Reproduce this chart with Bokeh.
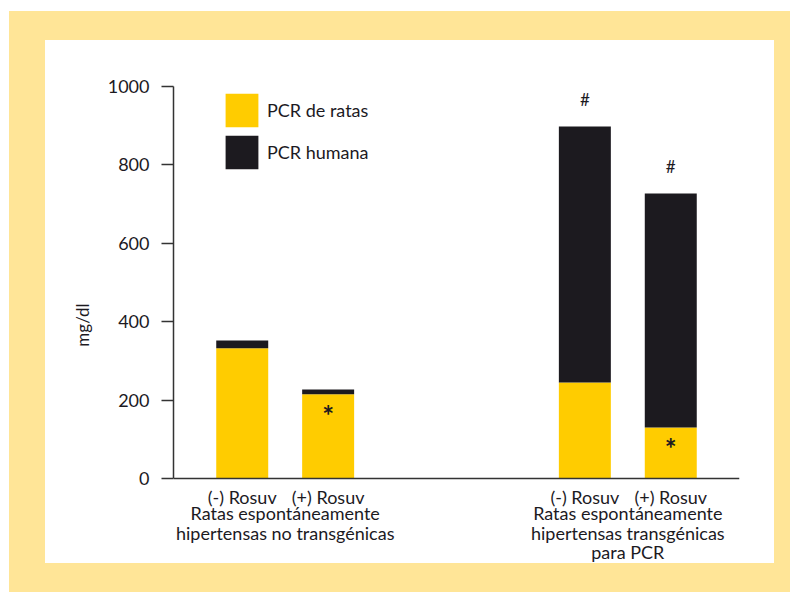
from bokeh.plotting import figure
from bokeh.models import FactorRange, ColumnDataSource, Spacer, Column, Row, Legend, LegendItem
from bokeh.core.properties import value
from bokeh.embed import file_html
from bokeh.resources import INLINE

# ---- data ----
groups = ["Ratas espontáneamente\nhipertensas no transgénicas",
          "Ratas espontáneamente\nhipertensas transgénicas\npara PCR"]
treatments = ["(-) Rosuv", "(+) Rosuv"]
pcr_ratas = [332, 215, 245, 130]
pcr_humana = [20, 12, 653, 597]
hash_marks = ["", "", "#", "#"]
star_marks = ["", "*", "", "*"]
series_names = ["PCR de ratas", "PCR humana"]
y_ticks = [0, 200, 400, 600, 800, 1000]
y_label = "mg/dl"

YELLOW = "#FFCC00"
BLACK = "#1C1A1F"
FRAME_BG = "#FFE597"
FONT = "Lato"

factors = [(g, t) for g in groups for t in treatments]
totals = [a + b for a, b in zip(pcr_ratas, pcr_humana)]
src = ColumnDataSource(dict(x=factors, ratas=pcr_ratas, humana=pcr_humana,
                            total=totals, hashm=hash_marks, starm=star_marks,
                            tlabel=[t for g in groups for t in treatments],
                            zero=[0] * len(factors)))
gsrc = ColumnDataSource(dict(x=groups, label=groups, zero=[0] * len(groups)))

xr = FactorRange(*factors, factor_padding=0.0, group_padding=1.988,
                 range_padding=0.3, range_padding_units="absolute")

p = figure(x_range=xr, y_range=(-217, 1000), width=729, height=523,
           output_backend="svg", toolbar_location=None,
           min_border_left=128, min_border_right=35, min_border_top=46, min_border_bottom=0)
p.background_fill_color = None
p.border_fill_color = "white"
p.outline_line_color = None
p.grid.visible = False
p.styles = {"background-color": "white"}

r = p.vbar_stack(["ratas", "humana"], x="x", width=0.605, source=src,
                 color=[YELLOW, BLACK], line_color=None)

p.text(x="x", y="total", text="hashm", source=src, text_align="center",
       text_baseline="middle", y_offset=-27, text_font=value(FONT),
       text_font_size="17px", text_color=BLACK)
p.text(x="x", y="ratas", text="starm", source=src, text_align="center",
       text_baseline="middle", y_offset=21, text_font=value(FONT),
       text_font_size="28px", text_font_style="bold", text_color=BLACK)

# category labels under the axis
p.text(x="x", y="zero", text="tlabel", source=src, text_align="center",
       text_baseline="top", y_offset=8, text_font=value(FONT),
       text_font_size="18px", text_color=BLACK)
p.text(x="x", y="zero", text="label", source=gsrc, text_align="center",
       text_baseline="top", y_offset=24, text_font=value(FONT),
       text_font_size="18px", text_color=BLACK, text_line_height=0.88)

legend = Legend(items=[LegendItem(label=series_names[0], renderers=[r[0]]),
                       LegendItem(label=series_names[1], renderers=[r[1]])],
                location=(48, 390), padding=0, margin=0, spacing=-3,
                glyph_width=41, glyph_height=42, label_standoff=5,
                border_line_alpha=0, background_fill_alpha=0,
                label_text_font=FONT, label_text_font_size="18px", label_text_color=BLACK)
p.add_layout(legend, "center")

# y axis
ya = p.yaxis[0]
ya.ticker = y_ticks
ya.bounds = (0, 1000)
ya.axis_label = y_label
ya.axis_label_text_font = FONT
ya.axis_label_text_font_size = "17px"
ya.axis_label_text_font_style = "normal"
ya.axis_label_text_color = BLACK
ya.axis_label_standoff = 12
ya.major_label_text_font = FONT
ya.major_label_text_font_size = "18px"
ya.major_label_text_color = BLACK
ya.major_label_standoff = 12
ya.major_tick_out = 12
ya.major_tick_in = 0
ya.minor_tick_line_color = None
ya.axis_line_color = "#333333"
ya.axis_line_width = 1.5
ya.major_tick_line_color = "#333333"
ya.major_tick_line_width = 1.5

# x axis (line only, at y = 0)
xa = p.xaxis[0]
xa.fixed_location = 0
xa.major_tick_line_color = None
xa.minor_tick_line_color = None
xa.axis_line_color = "#333333"
xa.axis_line_width = 1.5
xa.major_label_text_alpha = 0
xa.group_text_alpha = 0
xa.subgroup_text_alpha = 0
xa.separator_line_alpha = 0

inner = Column(Spacer(height=29),
               Row(Spacer(width=36), p, Spacer(width=16)),
               Spacer(height=29),
               styles={"background-color": FRAME_BG})
inner.margin = (11, 0, 0, 9)

open("out.html", "w").write(file_html(inner, INLINE))
